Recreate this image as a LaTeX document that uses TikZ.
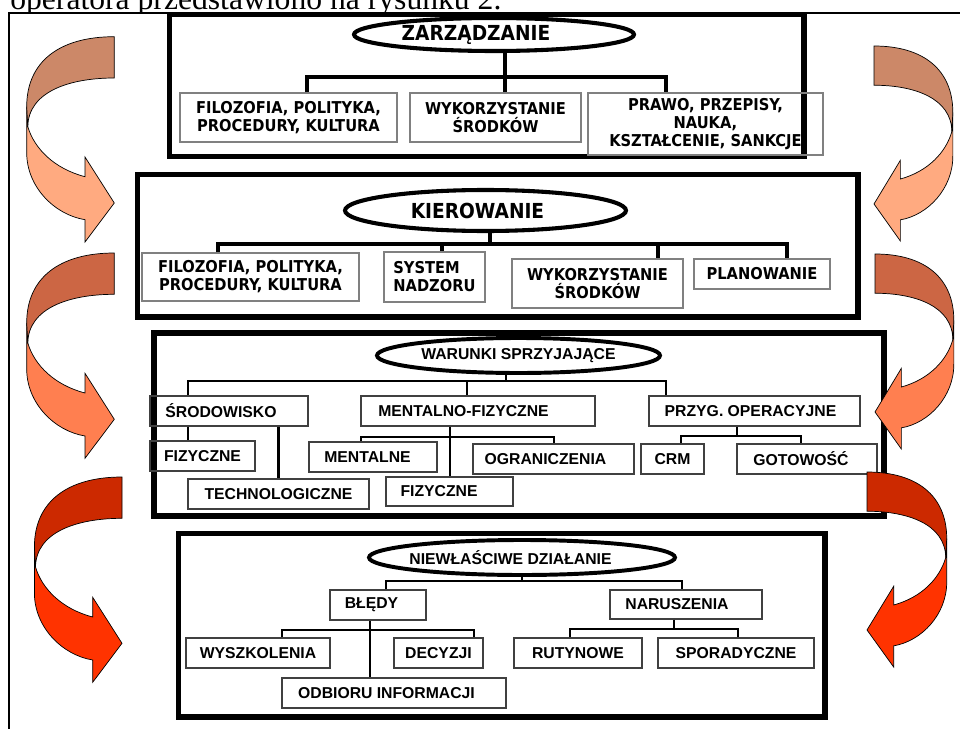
\documentclass[tikz,border=0pt]{standalone}
\usepackage{fontspec}
\setmainfont{Liberation Serif}
\newfontfamily\verdfont{DejaVu Sans Condensed}[BoldFont={DejaVu Sans Condensed Bold}]
\newfontfamily\arialfont{Liberation Sans}
\usetikzlibrary{shapes.geometric}

\definecolor{tanD}{RGB}{204,136,104}
\definecolor{tanL}{RGB}{255,170,128}
\definecolor{coralD}{RGB}{204,102,68}
\definecolor{coralL}{RGB}{255,127,80}
\definecolor{redD}{RGB}{204,41,0}
\definecolor{redL}{RGB}{255,51,0}

\tikzset{
  lvlframe/.style={draw, line width=3.8pt},
  ovalA/.style={ellipse, draw, line width=2.9pt, inner xsep=-1cm, inner ysep=-2pt,
    font=\verdfont\bfseries\fontsize{14.7}{16}\selectfont},
  ovalB/.style={ellipse, draw, line width=2.8pt, inner xsep=-1cm, inner ysep=-2pt,
    font=\arialfont\bfseries\fontsize{11.2}{13}\selectfont},
  boxA/.style={draw=gray, line width=0.8pt, inner sep=0pt, align=center,
    font=\verdfont\bfseries\fontsize{11.6}{12.8}\selectfont},
  boxB/.style={draw=black!75, line width=1pt, inner sep=0pt, align=center,
    font=\arialfont\bfseries\fontsize{11.2}{13}\selectfont},
  linkA/.style={line width=2.2pt},
  linkB/.style={line width=1.5pt},
  wh/.style 2 args={minimum width=#1*0.025cm, minimum height=#2*0.025cm},
}

% twisted ribbon arrow, drawn in px round its top corner
\newcommand{\twistarrow}[2]{%
  \filldraw[fill=#2, draw=black, line width=0.5pt] (-87.6,70) -- (-87.6,116)
    .. controls (-87.6,150) and (-60,178) .. (-29.3,183) -- (-29.3,205.3) -- (0,166.3)
    -- (-29.3,120.3) -- (-29.3,140) .. controls (-60,132) and (-80,112) .. (-86.5,90) -- cycle;
  \filldraw[fill=#1, draw=black, line width=0.5pt] (0,0)
    .. controls (-55,0) and (-87.6,25) .. (-87.6,70) -- (-86.5,90)
    .. controls (-86,55) and (-45,41.3) .. (0,41.3) -- cycle;
}

\begin{document}
\begin{tikzpicture}[x=0.025cm, y=-0.025cm]
\useasboundingbox (0,0) rectangle (960,729);

% page text and table cell
\begin{scope}
  \clip (0,-40) rectangle (960,12);
  \node[anchor=base west, inner sep=0pt, font=\fontsize{22.5}{24}\selectfont] (caption) at (10,10) {operatora przedstawiono na rysunku 2.};
\end{scope}
\draw[line width=1pt] (9,740) -- (9,13) -- (970,13);

% ZARZADZANIE
\draw[lvlframe] (169.5,14.5) rectangle (804,156.5);
\node[ovalA, wh={280}{33}] (zar) at (494,34.5) {ZARZĄDZANIE\hspace*{0.9cm}};
\node[boxA, wh={217}{49}] (fz1) at (288.5,117.5) {FILOZOFIA, POLITYKA,\\PROCEDURY, KULTURA};
\node[boxA, wh={171}{49}] (ws1) at (495.5,117.5) {WYKORZYSTANIE\\ŚRODKÓW};
\node[boxA, wh={235}{62}] (pr1) at (705.5,124) {PRAWO, PRZEPISY,\\NAUKA,\\KSZTAŁCENIE, SANKCJE};
\coordinate (b1) at (505,77);
\coordinate (b1l) at (307,77);
\coordinate (b1r) at (666,77);
\draw[linkA] (zar.south -| b1) -- (ws1.north -| b1);
\draw[linkA] (fz1.north -| b1l) |- (b1r) -- (pr1.north -| b1r);

% KIEROWANIE
\draw[lvlframe] (137.5,174.5) rectangle (858,317);
\node[ovalA, wh={281}{41}] (kie) at (485.5,210.5) {KIEROWANIE\hspace*{0.4cm}};
\node[boxA, wh={217}{48}] (fz2) at (250.5,277) {FILOZOFIA, POLITYKA,\\PROCEDURY, KULTURA};
\node[boxA, wh={101}{50}, align=left] (sn2) at (434.5,277) {SYSTEM\\NADZORU};
\node[boxA, wh={171}{49}] (ws2) at (597.5,283.5) {WYKORZYSTANIE\\ŚRODKÓW};
\node[boxA, wh={136}{30}] (pl2) at (762,274) {PLANOWANIE};
\coordinate (b2) at (490,244);
\coordinate (b2l) at (218,244);
\coordinate (b2r) at (787,244);
\coordinate (b2s) at (442,244);
\coordinate (b2w) at (658,244);
\draw[linkA] (kie.south -| b2) -- (b2);
\draw[linkA] (fz2.north -| b2l) |- (b2r) -- (pl2.north -| b2r);
\draw[linkA] (b2s) -- (sn2.north -| b2s);
\draw[linkA] (b2w) -- (ws2.north -| b2w);

% WARUNKI SPRZYJAJACE
\draw[lvlframe] (154,333) rectangle (884,516);
\node[ovalB, wh={283}{35}] (war) at (518.5,355.5) {WARUNKI SPRZYJAJĄCE};
\node[boxB, wh={158}{30}] (sr3) at (229,411) {ŚRODOWISKO\hspace*{0.4cm}};
\node[boxB, wh={234}{30}] (mf3) at (478,411) {MENTALNO-FIZYCZNE\hspace*{0.725cm}};
\node[boxB, wh={211}{30}] (po3) at (754.5,411) {PRZYG. OPERACYJNE\hspace*{0.2cm}};
\node[boxB, wh={105}{30}] (fe3) at (202.5,456) {FIZYCZNE};
\node[boxB, wh={181}{30}] (te3) at (278.5,494) {TECHNOLOGICZNE};
\node[boxB, wh={128}{30}] (me3) at (373,457) {MENTALNE\hspace*{0.275cm}};
\node[boxB, wh={161}{30}] (og3) at (553.5,459) {OGRANICZENIA\hspace*{0.4cm}};
\node[boxB, wh={127}{29}] (fm3) at (449.5,491.5) {FIZYCZNE\hspace*{0.525cm}};
\node[boxB, wh={63}{30}] (cr3) at (672.5,459) {CRM};
\node[boxB, wh={140}{30}] (go3) at (807,459) {GOTOWOŚĆ\hspace*{0.3cm}};
\coordinate (b3) at (506,381);
\coordinate (b3l) at (188,381);
\coordinate (b3r) at (666,381);
\coordinate (b3m) at (467,381);
\draw[linkB] (war.south -| b3) -- (b3);
\draw[linkB] (sr3.north -| b3l) |- (b3r) -- (po3.north -| b3r);
\draw[linkB] (b3m) -- (mf3.north -| b3m);
\draw[linkB] (sr3.south -| b3l) -- (fe3.north -| b3l);
\draw[linkB] (sr3.south -| te3.north) -- (te3.north);
\coordinate (c3m) at (450,437);
\coordinate (c3ml) at (361,437);
\coordinate (c3mr) at (554,437);
\draw[linkB] (mf3.south -| c3m) -- (fm3.north -| c3m);
\draw[linkB] (me3.north -| c3ml) |- (c3mr) -- (og3.north -| c3mr);
\coordinate (c3p) at (737,436);
\coordinate (c3pl) at (681,436);
\coordinate (c3pr) at (801,436);
\draw[linkB] (po3.south -| c3p) -- (c3p);
\draw[linkB] (cr3.north -| c3pl) |- (c3pr) -- (go3.north -| c3pr);

% NIEWLASCIWE DZIALANIE
\draw[lvlframe] (178.5,533.5) rectangle (825,717);
\node[ovalB, wh={306}{35}] (nie) at (522,557.5) {NIEWŁAŚCIWE DZIAŁANIE\hspace*{0.575cm}};
\node[boxB, wh={96}{30}] (bl4) at (378,605) {BŁĘDY\hspace*{0.325cm}};
\node[boxB, wh={152}{29}] (na4) at (686,604.5) {NARUSZENIA\hspace*{0.45cm}};
\node[boxB, wh={144}{30}] (wy4) at (258,653) {WYSZKOLENIA};
\node[boxB, wh={89}{30}] (de4) at (438.5,653) {DECYZJI};
\node[boxB, wh={224}{30}] (od4) at (394,693) {ODBIORU INFORMACJI\hspace*{0.375cm}};
\node[boxB, wh={128}{30}] (ru4) at (578,653) {RUTYNOWE};
\node[boxB, wh={156}{30}] (sp4) at (736,653) {SPORADYCZNE};
\coordinate (b4) at (522,581);
\coordinate (b4l) at (386,581);
\coordinate (b4r) at (682,581);
\draw[linkB] (nie.south -| b4) -- (b4);
\draw[linkB] (bl4.north -| b4l) |- (b4r) -- (na4.north -| b4r);
\coordinate (c4b) at (370,630);
\coordinate (c4bl) at (282,630);
\coordinate (c4br) at (474,630);
\draw[linkB] (bl4.south -| c4b) -- (od4.north -| c4b);
\draw[linkB] (wy4.north -| c4bl) |- (c4br) -- (de4.north -| c4br);
\coordinate (c4n) at (674,629);
\coordinate (c4nl) at (570,629);
\coordinate (c4nr) at (738,629);
\draw[linkB] (na4.south -| c4n) -- (c4n);
\draw[linkB] (ru4.north -| c4nl) |- (c4nr) -- (sp4.north -| c4nr);

% side arrows
\begin{scope}[shift={(114.3,36.7)}]\twistarrow{tanD}{tanL}\end{scope}
\begin{scope}[shift={(114.3,253)}]\twistarrow{coralD}{coralL}\end{scope}
\begin{scope}[shift={(122,477)}]\twistarrow{redD}{redL}\end{scope}
\begin{scope}[shift={(874,46)}, xscale=-0.9, yscale=0.95]\twistarrow{tanD}{tanL}\end{scope}
\begin{scope}[shift={(875,254)}, xscale=-0.9, yscale=0.95]\twistarrow{coralD}{coralL}\end{scope}
\begin{scope}[shift={(867,472)}, xscale=-0.91, yscale=0.95]\twistarrow{redD}{redL}\end{scope}
\end{tikzpicture}
\end{document}
